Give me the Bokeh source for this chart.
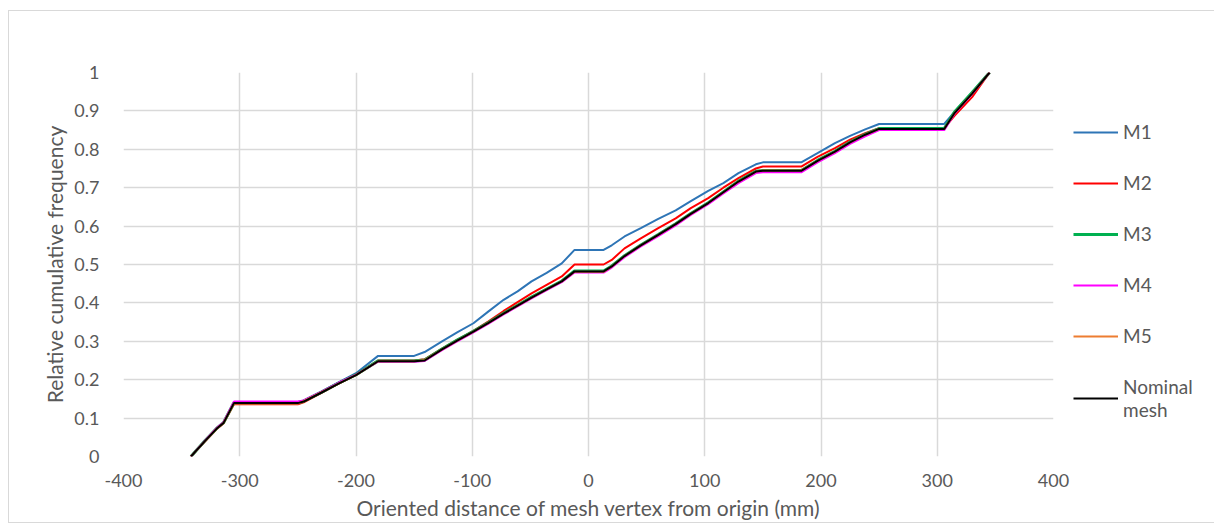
from bokeh.plotting import figure
from bokeh.models import Legend, LegendItem, FixedTicker, Range1d
from bokeh.embed import file_html
from bokeh.resources import INLINE

distance_mm = [-342, -330, -320, -314, -305, -250, -245, -230, -215, -200, -181, -150, -141, -126, -113,
               -99, -86, -73, -61, -49, -36, -23, -12, 13, 20, 31, 45, 60, 75, 88,
               103, 116, 129, 144, 150, 183, 197, 212, 225, 238, 250, 306, 315, 330, 345]

m1 = [0.0, 0.04, 0.073, 0.088, 0.142, 0.142, 0.146, 0.169, 0.193, 0.217, 0.262, 0.262, 0.272, 0.30, 0.323,
      0.347, 0.378, 0.408, 0.43, 0.456, 0.478, 0.503, 0.538, 0.538, 0.55, 0.573, 0.595, 0.619, 0.641, 0.665,
      0.692, 0.712, 0.738, 0.761, 0.766, 0.766, 0.79, 0.816, 0.835, 0.852, 0.866, 0.866, 0.898, 0.948, 1.0]
m2 = [0.0, 0.039, 0.071, 0.086, 0.136, 0.136, 0.141, 0.165, 0.19, 0.213, 0.25, 0.25, 0.253, 0.281, 0.304,
      0.327, 0.352, 0.379, 0.402, 0.425, 0.447, 0.469, 0.5, 0.5, 0.512, 0.542, 0.568, 0.595, 0.62, 0.647,
      0.673, 0.7, 0.725, 0.75, 0.755, 0.755, 0.78, 0.803, 0.825, 0.842, 0.855, 0.855, 0.888, 0.936, 1.0]
m3 = [0.0, 0.041, 0.073, 0.088, 0.14, 0.14, 0.144, 0.167, 0.191, 0.213, 0.249, 0.249, 0.251, 0.28, 0.303,
      0.326, 0.349, 0.373, 0.394, 0.415, 0.436, 0.457, 0.483, 0.483, 0.496, 0.523, 0.551, 0.578, 0.606, 0.633,
      0.661, 0.689, 0.717, 0.743, 0.745, 0.745, 0.771, 0.795, 0.819, 0.839, 0.854, 0.854, 0.898, 0.948, 1.0]
m4 = [0.0, 0.041, 0.074, 0.089, 0.143, 0.143, 0.146, 0.168, 0.192, 0.213, 0.247, 0.247, 0.249, 0.277, 0.3,
      0.323, 0.346, 0.37, 0.391, 0.412, 0.433, 0.454, 0.479, 0.479, 0.492, 0.519, 0.547, 0.574, 0.602, 0.629,
      0.657, 0.685, 0.712, 0.738, 0.74, 0.74, 0.766, 0.79, 0.814, 0.834, 0.85, 0.85, 0.893, 0.944, 1.0]
m5 = [0.0, 0.04, 0.072, 0.087, 0.138, 0.138, 0.144, 0.167, 0.19, 0.212, 0.248, 0.248, 0.251, 0.279, 0.302,
      0.325, 0.348, 0.372, 0.393, 0.414, 0.435, 0.456, 0.481, 0.481, 0.495, 0.522, 0.55, 0.577, 0.605, 0.632,
      0.66, 0.688, 0.716, 0.742, 0.745, 0.745, 0.77, 0.794, 0.818, 0.838, 0.853, 0.853, 0.895, 0.945, 1.0]
nominal = [0.0, 0.04, 0.072, 0.087, 0.139, 0.139, 0.143, 0.166, 0.19, 0.212, 0.248, 0.248, 0.25, 0.279, 0.302,
           0.325, 0.348, 0.372, 0.393, 0.414, 0.435, 0.456, 0.482, 0.482, 0.495, 0.522, 0.55, 0.577, 0.605, 0.632,
           0.66, 0.688, 0.716, 0.742, 0.744, 0.744, 0.77, 0.794, 0.818, 0.838, 0.853, 0.853, 0.895, 0.945, 1.0]

series_names = ["M1", "M2", "M3", "M4", "M5", "Nominal\nmesh"]
series_values = [m1, m2, m3, m4, m5, nominal]
series_colors = ["#2E75B6", "#FF0000", "#00B050", "#FF00FF", "#ED7D31", "#000000"]
series_widths = [2, 2, 3, 2, 2, 2]

x_ticks = [-400, -300, -200, -100, 0, 100, 200, 300, 400]
x_tick_labels = ["-400", "-300", "-200", "-100", "0", "100", "200", "300", "400"]
y_ticks = [0, 0.1, 0.2, 0.3, 0.4, 0.5, 0.6, 0.7, 0.8, 0.9, 1]
y_tick_labels = ["0", "0.1", "0.2", "0.3", "0.4", "0.5", "0.6", "0.7", "0.8", "0.9", "1"]

FONT = "Lato"
GREY = "#595959"
GRID = "#d9d9d9"

p = figure(width=1202, height=513, output_backend="svg", toolbar_location=None,
           x_range=Range1d(-400, 400), y_range=Range1d(0, 1),
           min_border_left=114, min_border_top=61, min_border_bottom=5, min_border_right=0,
           frame_width=930, frame_height=384,
           styles={"margin-left": "8px", "margin-top": "10px", "border": "1px solid #d9d9d9"})
p.outline_line_color = None
p.background_fill_color = "white"
p.border_fill_color = "white"

p.xaxis.ticker = FixedTicker(ticks=x_ticks)
p.yaxis.ticker = FixedTicker(ticks=y_ticks)
p.xaxis.major_label_overrides = {t: s for t, s in zip(x_ticks, x_tick_labels)}
p.yaxis.major_label_overrides = {t: s for t, s in zip(y_ticks, y_tick_labels)}

for ax in (p.xaxis, p.yaxis):
    ax.axis_line_color = None
    ax.major_tick_line_color = None
    ax.minor_tick_line_color = None
    ax.major_label_text_font = FONT
    ax.major_label_text_font_size = "18px"
    ax.major_label_text_color = GREY
    ax.axis_label_text_font = FONT
    ax.axis_label_text_font_size = "21px"
    ax.axis_label_text_font_style = "normal"
    ax.axis_label_text_color = GREY

p.xaxis.axis_label = "Oriented distance of mesh vertex from origin (mm)"
p.yaxis.axis_label = "Relative cumulative frequency"
p.xaxis.major_label_standoff = 11
p.yaxis.major_label_standoff = 18
p.xaxis.axis_label_standoff = 5
p.yaxis.axis_label_standoff = 4

p.xgrid.grid_line_color = GRID
p.ygrid.grid_line_color = GRID
p.xgrid.grid_line_width = 1.5
p.ygrid.grid_line_width = 1.5

items = []
for name, vals, col, lw in zip(series_names, series_values, series_colors, series_widths):
    r = p.line(distance_mm, vals, line_color=col, line_width=lw)
    items.append(LegendItem(label=name, renderers=[r]))

legend = Legend(items=items, location=(20, 35))
legend.border_line_color = None
legend.background_fill_alpha = 0
legend.label_text_font = FONT
legend.label_text_font_size = "19px"
legend.label_text_color = GREY
legend.glyph_width = 45
legend.glyph_height = 20
legend.label_height = 20
legend.spacing = 28
legend.margin = 0
legend.padding = 10
legend.label_standoff = 5
p.add_layout(legend, "right")

open("out.html", "w").write(file_html(p, INLINE))
